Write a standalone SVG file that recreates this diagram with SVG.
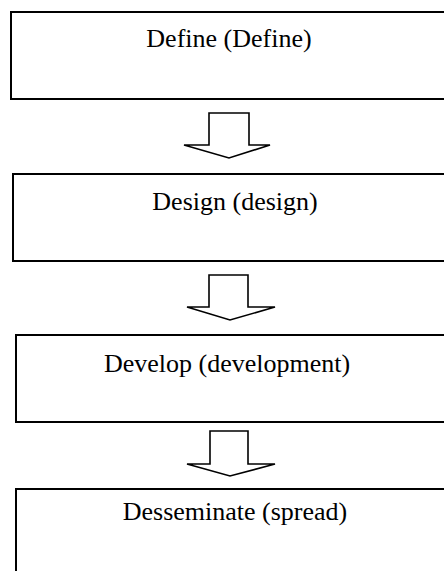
<svg xmlns="http://www.w3.org/2000/svg" width="444" height="571" viewBox="0 0 444 571">
<style>
.box{fill:#fff;stroke:#000;stroke-width:2}
.lbl{font-family:"Liberation Serif","Times New Roman",serif;font-size:26px;fill:#000;text-anchor:middle}
.arr{fill:#fff;stroke:#000;stroke-width:1.6;stroke-linejoin:miter}
</style>
<rect width="444" height="571" fill="#fff"/>
<g id="define">
<rect class="box" x="11" y="12" width="445" height="87"/>
<text class="lbl" x="229" y="47">Define (Define)</text>
</g>
<g id="design">
<rect class="box" x="13" y="174" width="445" height="87"/>
<text class="lbl" x="235" y="210">Design (design)</text>
</g>
<g id="develop">
<rect class="box" x="16" y="335" width="445" height="87"/>
<text class="lbl" x="227" y="372">Develop (development)</text>
</g>
<g id="disseminate">
<rect class="box" x="16" y="489" width="445" height="100"/>
<text class="lbl" x="235" y="520">Desseminate (spread)</text>
</g>
<g id="connectors">
<path class="arr" d="M209,113 H249 V145 H270 L229,158 L184,145 H209 Z"/>
<path class="arr" d="M209,275 H248 V307 H275 L230,320 L187,307 H209 Z"/>
<path class="arr" d="M210,431 H248 V464 H275 L230,476 L187,464 H210 Z"/>
</g>
</svg>
